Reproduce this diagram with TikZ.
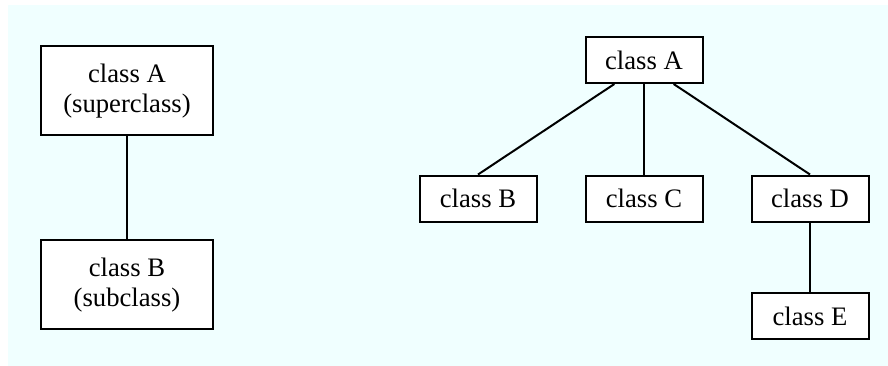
\documentclass[tikz,border=0pt]{standalone}
\usepackage{fontspec}
\setmainfont{Liberation Serif}
\usepackage{tikz}
\usetikzlibrary{positioning}
\definecolor{bgcyan}{RGB}{240,255,255}

\begin{document}
\begin{tikzpicture}[x=0.75pt, y=-0.75pt,
  cls/.style = {draw, rectangle, fill=white, line width=1.5pt, inner sep=0pt,
                minimum width=87.75pt, minimum height=34.5pt,
                font=\fontsize{20}{22.5}\selectfont},
  big/.style = {cls, align=center, minimum width=129pt, minimum height=66.75pt},
  link/.style = {line width=1.5pt}]
\useasboundingbox (0,0) rectangle (888,366);
\fill[bgcyan] (8,5) rectangle (888,366);
% superclass / subclass
\node[big] (sup) at (127,91) {class A\\(superclass)};
\node[big] (sub) [below of=sup, node distance=145.5pt] {class B\\(subclass)};
\path (sup) edge [link] (sub);
% class tree
\node[cls] (A) at (644,60) {class A};
\node[cls] (C) [below of=A, node distance=103.9pt] {class C};
\node[cls] (B) [left of=C, node distance=124.5pt] {class B};
\node[cls] (D) [right of=C, node distance=124.5pt] {class D};
\node[cls] (E) [below of=D, node distance=88.1pt] {class E};
\draw[link] (A.219) -- (B.north);
\draw[link] (A) -- (C);
\draw[link] (A.321) -- (D.north);
\draw[link] (D) -- (E);
\end{tikzpicture}
\end{document}
